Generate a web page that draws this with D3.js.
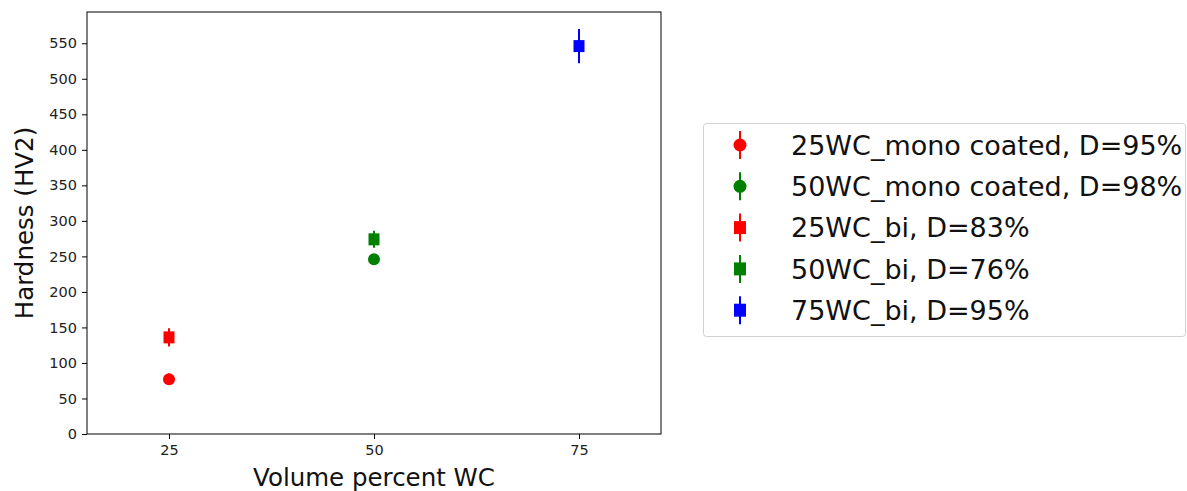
<!DOCTYPE html>
<html>
<head>
<meta charset="utf-8">
<script src="https://cdn.jsdelivr.net/npm/d3@7"></script>
<style>
  html, body { margin: 0; padding: 0; background: #fff; }
  svg { display: block; font-family: "DejaVu Sans", sans-serif; }
</style>
</head>
<body>
<svg id="chart" width="1187" height="491"></svg>
<script>
// Hardness measurements by WC volume fraction
const seriesNames = [
  "25WC_mono coated, D=95%",
  "50WC_mono coated, D=98%",
  "25WC_bi, D=83%",
  "50WC_bi, D=76%",
  "75WC_bi, D=95%"
];
const volumePercent = [25, 50, 25, 50, 75];
const hardness = [77, 246, 136, 274, 546];
const hardnessErr = [8, 6, 13, 12, 24];
const seriesColors = ["#ff0000", "#008000", "#ff0000", "#008000", "#0000ff"];
const seriesMarkers = ["circle", "circle", "square", "square", "square"];
const xTicks = [25, 50, 75];
const yTicks = [0, 50, 100, 150, 200, 250, 300, 350, 400, 450, 500, 550];

const svg = d3.select("#chart");
const plot = { left: 87, right: 661, top: 12, bottom: 434 };

const x = d3.scaleLinear().domain([15, 85]).range([plot.left, plot.right]);
const y = d3.scaleLinear().domain([0, 594]).range([plot.bottom, plot.top]);

// axes
const xAxis = d3.axisBottom(x).tickValues(xTicks).tickSize(5).tickPadding(6).tickFormat(d3.format("d"));
const yAxis = d3.axisLeft(y).tickValues(yTicks).tickSize(5).tickPadding(5).tickFormat(d3.format("d"));

const gx = svg.append("g").attr("transform", `translate(0,${plot.bottom})`).call(xAxis);
const gy = svg.append("g").attr("transform", `translate(${plot.left},0)`).call(yAxis);
[gx, gy].forEach(g => {
  g.select(".domain").remove();
  g.selectAll(".tick line").attr("stroke", "#000").attr("stroke-width", 1);
  g.selectAll(".tick text").attr("fill", "#222").style("font-size", "14.5px").style("font-family", "DejaVu Sans");
});

// frame
svg.append("rect")
  .attr("x", plot.left).attr("y", plot.top)
  .attr("width", plot.right - plot.left).attr("height", plot.bottom - plot.top)
  .attr("fill", "none").attr("stroke", "#000").attr("stroke-width", 1);

// axis labels
svg.append("text")
  .attr("x", 374).attr("y", 486)
  .attr("text-anchor", "middle").style("font-size", "24.5px").attr("fill", "#111")
  .text("Volume percent WC");
svg.append("text")
  .attr("transform", `translate(33,${(plot.top + plot.bottom) / 2}) rotate(-90)`)
  .attr("text-anchor", "middle").style("font-size", "24.5px").attr("fill", "#111")
  .text("Hardness (HV2)");

function drawMarker(g, cx, cy, shape, color, size) {
  if (shape === "circle") {
    g.append("circle").attr("cx", cx).attr("cy", cy).attr("r", size / 2).attr("fill", color);
  } else {
    g.append("rect").attr("x", cx - size / 2 + 0.5).attr("y", cy - size / 2)
      .attr("width", size - 1).attr("height", size).attr("fill", color);
  }
}

// points with error bars
const points = svg.append("g");
seriesNames.forEach((name, i) => {
  const g = points.append("g");
  const cx = x(volumePercent[i]);
  g.append("line")
    .attr("x1", cx).attr("x2", cx)
    .attr("y1", y(hardness[i] - hardnessErr[i])).attr("y2", y(hardness[i] + hardnessErr[i]))
    .attr("stroke", seriesColors[i]).attr("stroke-width", 2);
  drawMarker(g, cx, y(hardness[i]), seriesMarkers[i], seriesColors[i], 12);
});

// legend
const legend = svg.append("g");
legend.append("rect")
  .attr("x", 703.5).attr("y", 123.5).attr("width", 482).attr("height", 213)
  .attr("rx", 3).attr("fill", "#fff").attr("stroke", "#d0d0d0").attr("stroke-width", 1);
seriesNames.forEach((name, i) => {
  const ly = 145 + i * 41.3;
  const lg = legend.append("g");
  lg.append("line").attr("x1", 740).attr("x2", 740).attr("y1", ly - 14).attr("y2", ly + 14)
    .attr("stroke", seriesColors[i]).attr("stroke-width", 2);
  drawMarker(lg, 740, ly, seriesMarkers[i], seriesColors[i], 13);
  lg.append("text").attr("x", 791).attr("y", ly).attr("dy", "0.36em")
    .style("font-size", "27px").attr("fill", "#111").text(name);
});
</script>
</body>
</html>
